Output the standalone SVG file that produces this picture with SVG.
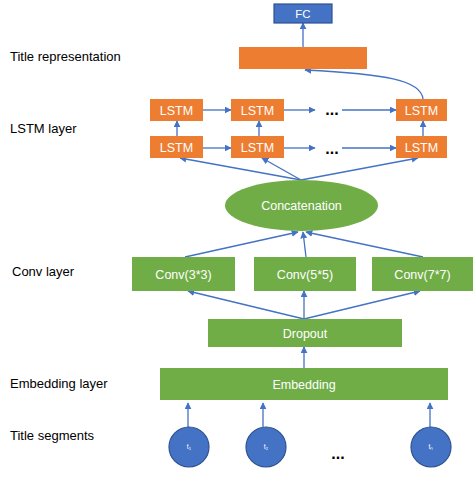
<svg xmlns="http://www.w3.org/2000/svg" width="474" height="481" viewBox="0 0 474 481">
<style>
.lbl{font-family:"Liberation Sans",Arial,sans-serif;font-size:13px;fill:#000}
.nt{font-family:"Liberation Sans",Arial,sans-serif;font-size:12.5px;fill:#fff;text-anchor:middle}
.or{fill:#ED7D31}
.gr{fill:#70AD47}
.bl{fill:#4472C4;stroke:#2F528F;stroke-width:1.2}
.dots{font-family:"Liberation Sans",Arial,sans-serif;font-size:16px;font-weight:bold;fill:#000;text-anchor:middle}
.ar{fill:none;stroke:#4472C4;stroke-width:1.3;marker-end:url(#ah)}
.tk{font-family:"Liberation Sans",Arial,sans-serif;font-size:7px;fill:#fff;text-anchor:middle}
</style>
<defs>
<marker id="ah" viewBox="0 0 10 10" refX="9" refY="5" markerWidth="7" markerHeight="7" markerUnits="userSpaceOnUse" orient="auto">
<path d="M0,0 L10,5 L0,10 z" fill="#4472C4"/>
</marker>
</defs>
<g id="labels">
<text class="lbl" x="10" y="61">Title representation</text>
<text class="lbl" x="10" y="133">LSTM layer</text>
<text class="lbl" x="12" y="276">Conv layer</text>
<text class="lbl" x="10" y="388">Embedding layer</text>
<text class="lbl" x="10" y="440">Title segments</text>
</g>
<g id="connectors">
<line class="ar" x1="303" y1="47" x2="303" y2="23"/>
<path class="ar" d="M423,99 C421,80 385,74 305,70"/>
<line class="ar" x1="203" y1="110" x2="231" y2="110"/>
<line class="ar" x1="284" y1="110" x2="315" y2="110"/>
<line class="ar" x1="342" y1="110" x2="396" y2="110"/>
<line class="ar" x1="203" y1="148" x2="231" y2="148"/>
<line class="ar" x1="284" y1="148" x2="315" y2="148"/>
<line class="ar" x1="342" y1="148" x2="396" y2="148"/>
<line class="ar" x1="177" y1="136" x2="177" y2="121"/>
<line class="ar" x1="259" y1="136" x2="259" y2="121"/>
<line class="ar" x1="423" y1="136" x2="423" y2="121"/>
<line class="ar" x1="301" y1="180" x2="180" y2="158"/>
<line class="ar" x1="301" y1="180" x2="262" y2="158"/>
<line class="ar" x1="301" y1="180" x2="418" y2="158"/>
<line class="ar" x1="185" y1="257" x2="298" y2="232"/>
<line class="ar" x1="306" y1="257" x2="303" y2="232"/>
<line class="ar" x1="423" y1="257" x2="306" y2="232"/>
<line class="ar" x1="304" y1="319" x2="188" y2="291"/>
<line class="ar" x1="304" y1="319" x2="304" y2="291"/>
<line class="ar" x1="304" y1="319" x2="420" y2="291"/>
<line class="ar" x1="304" y1="368" x2="304" y2="347"/>
<line class="ar" x1="188" y1="427" x2="188" y2="403"/>
<line class="ar" x1="263" y1="427" x2="263" y2="403"/>
<line class="ar" x1="430" y1="427" x2="430" y2="403"/>
</g>
<g id="fc"><rect class="bl" x="274" y="4" width="58" height="19"/><text class="nt" x="303" y="18" style="font-size:11.5px">FC</text></g>
<g id="title-rep"><rect class="or" x="239" y="47" width="128" height="22"/></g>
<g id="lstm-t1"><rect class="or" x="150" y="99" width="53" height="22"/><text class="nt" x="176.5" y="114.5">LSTM</text></g>
<g id="lstm-t2"><rect class="or" x="231" y="99" width="53" height="22"/><text class="nt" x="257.5" y="114.5">LSTM</text></g>
<g id="lstm-t3"><rect class="or" x="396" y="99" width="51" height="22"/><text class="nt" x="421.5" y="114.5">LSTM</text></g>
<g id="lstm-b1"><rect class="or" x="150" y="136" width="53" height="22"/><text class="nt" x="176.5" y="151.5">LSTM</text></g>
<g id="lstm-b2"><rect class="or" x="231" y="136" width="53" height="22"/><text class="nt" x="257.5" y="151.5">LSTM</text></g>
<g id="lstm-b3"><rect class="or" x="396" y="136" width="51" height="22"/><text class="nt" x="421.5" y="151.5">LSTM</text></g>
<g id="dots"><text class="dots" x="332" y="115">...</text><text class="dots" x="332" y="154">...</text><text class="dots" x="338" y="459">...</text></g>
<g id="concat"><ellipse class="gr" cx="301.5" cy="205.5" rx="76.5" ry="25.5"/><text class="nt" x="301.5" y="210">Concatenation</text></g>
<g id="conv3"><rect class="gr" x="132" y="257" width="103" height="34"/><text class="nt" x="183.5" y="278.5">Conv(3*3)</text></g>
<g id="conv5"><rect class="gr" x="254" y="257" width="102" height="34"/><text class="nt" x="305" y="278.5">Conv(5*5)</text></g>
<g id="conv7"><rect class="gr" x="372" y="257" width="101" height="34"/><text class="nt" x="422.5" y="278.5">Conv(7*7)</text></g>
<g id="dropout"><rect class="gr" x="208" y="319" width="194" height="28"/><text class="nt" x="305" y="337.5">Dropout</text></g>
<g id="embedding"><rect class="gr" x="160" y="368" width="288" height="32"/><text class="nt" x="304" y="388.5">Embedding</text></g>
<g id="t1"><circle class="bl" cx="189" cy="447" r="20"/><text class="tk" x="189" y="449">t₁</text></g>
<g id="t2"><circle class="bl" cx="266" cy="447" r="20"/><text class="tk" x="266" y="449">t₂</text></g>
<g id="tn"><circle class="bl" cx="431" cy="447" r="20"/><text class="tk" x="431" y="449">tₙ</text></g>
</svg>
